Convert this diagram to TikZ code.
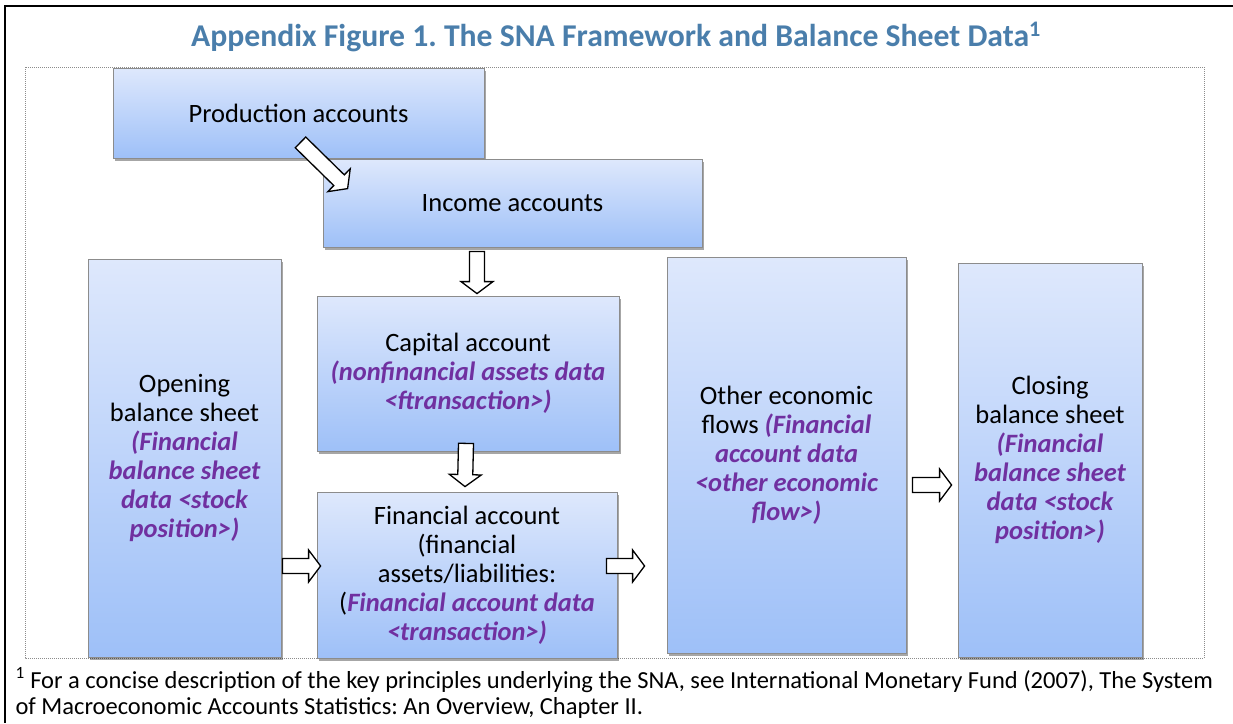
\documentclass[tikz,border=0pt]{standalone}
\usepackage{fontspec}
\setmainfont{Carlito}
\usetikzlibrary{calc,shadows}
\frenchspacing

\definecolor{titleblue}{RGB}{74,126,171}
\definecolor{datapurple}{RGB}{112,48,160}
\definecolor{boxtop}{RGB}{222,232,252}
\definecolor{boxbottom}{RGB}{158,192,248}
\definecolor{boxedge}{RGB}{140,140,140}

\newcommand{\datatext}[1]{\textcolor{datapurple}{\bfseries\itshape #1}}

% hollow block arrow from #1 to #2
\newcommand{\blockarrow}[2]{%
  \draw[flowarrow] let \p1=(#1), \p2=(#2), \n1={atan2(\y2-\y1,\x2-\x1)},
    \p3=($(\p2)+(\n1+180:12)$) in
    ($(\p1)+(\n1-90:7.5)$) -- ($(\p3)+(\n1-90:7.5)$) -- ($(\p3)+(\n1-90:16)$)
    -- (\p2) -- ($(\p3)+(\n1+90:16)$) -- ($(\p3)+(\n1+90:7.5)$)
    -- ($(\p1)+(\n1+90:7.5)$) -- cycle;}

\tikzset{
  acct/.style={draw=boxedge, line width=0.8pt, top color=boxtop,
    bottom color=boxbottom, align=center, inner sep=0pt,
    font=\fontsize{26.5}{29}\selectfont,
    drop shadow={shadow xshift=2pt, shadow yshift=-3pt, opacity=0.35, fill=black}},
  flowarrow/.style={draw=black, fill=white, line width=1.3pt, line join=miter},
}

\begin{document}
\begin{tikzpicture}[x=1pt, y=1pt]
  \useasboundingbox (0,0) rectangle (1233,-723);

  % Frame and title
  \draw[line width=2pt] (1233,-6) -- (5,-6) -- (5,-723);
  \node[font=\fontsize{31.7}{36}\selectfont\bfseries, text=titleblue, anchor=base]
    (title) at (616,-46) {Appendix Figure 1. The SNA Framework and Balance Sheet Data\textsuperscript{1}};
  \draw[black!45, line width=0.9pt, dash pattern=on 1pt off 1pt] (25,-67) rectangle (1204,-658);

  % Draw the account boxes
  \node[acct, minimum width=371, minimum height=90] (prod) at (298.5,-113) {Production accounts};
  \node[acct, minimum width=379, minimum height=88] (inc) at (512.5,-203) {Income accounts};
  \node[acct, minimum width=193, minimum height=398] (open) at (184.5,-458)
    {Opening\\balance sheet\\\datatext{(Financial}\\\datatext{balance sheet}\\\datatext{data <stock}\\\datatext{position>)}};
  \node[acct, minimum width=302, minimum height=155] (cap) at (468,-373.5)
    {Capital account\\\datatext{(nonfinancial assets data}\\\datatext{<ftransaction>)}};
  \node[acct, minimum width=300, minimum height=166] (fin) at (467,-575)
    {Financial account\\(financial\\assets/liabilities:\\(\datatext{Financial account data}\\\datatext{<transaction>)}};
  \node[acct, minimum width=239, minimum height=396] (oth) at (786.5,-455)
    {Other economic\\flows \datatext{(Financial}\\\datatext{account data}\\\datatext{<other economic}\\\datatext{flow>)}};
  \node[acct, minimum width=184, minimum height=394] (clo) at (1050,-460)
    {Closing\\balance sheet\\\datatext{(Financial}\\\datatext{balance sheet}\\\datatext{data <stock}\\\datatext{position>)}};

  % Draw the arrows between the accounts
  \blockarrow{$(prod.south)+(2,16)$}{$(inc.north west)+(25,-30)$}
  \blockarrow{$(cap.north |- inc.south)+(9,-4)$}{$(cap.north)+(9,2)$}
  \blockarrow{$(cap.south)+(-2,8)$}{$(fin.north)+(-2,5)$}
  \blockarrow{$(open.east |- fin.west)+(1,9)$}{$(fin.west)+(4,9)$}
  \blockarrow{$(fin.east)+(-11,9)$}{$(oth.west |- fin.east)+(-22,9)$}
  \blockarrow{$(oth.east)+(6,-30)$}{$(clo.west |- oth.east)+(-6,-30)$}

  % Footnote
  \node[font=\fontsize{24.5}{26}\selectfont, align=left, anchor=base west] (note) at (12,-714)
    {\textsuperscript{1} For a concise description of the key principles underlying the SNA, see International Monetary Fund (2007), The System\\of Macroeconomic Accounts Statistics: An Overview, Chapter II.};
\end{tikzpicture}
\end{document}
